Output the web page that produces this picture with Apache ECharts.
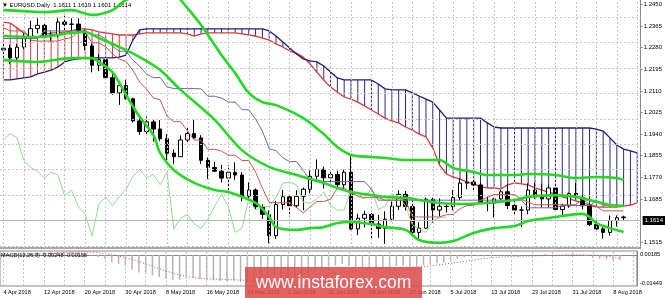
<!DOCTYPE html>
<html><head><meta charset="utf-8">
<script src="https://cdn.jsdelivr.net/npm/echarts@6/dist/echarts.min.js"></script>
<style>html,body{margin:0;padding:0;background:#fff}#c{width:665px;height:298px}</style>
</head><body><div id="c"></div>
<script>
const dates = ['4 Apr 2018','5 Apr 2018','6 Apr 2018','9 Apr 2018','10 Apr 2018','11 Apr 2018','12 Apr 2018','13 Apr 2018','16 Apr 2018','17 Apr 2018',
'18 Apr 2018','19 Apr 2018','20 Apr 2018','23 Apr 2018','24 Apr 2018','25 Apr 2018','26 Apr 2018','27 Apr 2018','30 Apr 2018','1 May 2018',
'2 May 2018','3 May 2018','4 May 2018','7 May 2018','8 May 2018','9 May 2018','10 May 2018','11 May 2018','14 May 2018','15 May 2018',
'16 May 2018','17 May 2018','18 May 2018','21 May 2018','22 May 2018','23 May 2018','24 May 2018','25 May 2018','28 May 2018','29 May 2018',
'30 May 2018','31 May 2018','1 Jun 2018','4 Jun 2018','5 Jun 2018','6 Jun 2018','7 Jun 2018','8 Jun 2018','11 Jun 2018','12 Jun 2018',
'13 Jun 2018','14 Jun 2018','15 Jun 2018','18 Jun 2018','19 Jun 2018','20 Jun 2018','21 Jun 2018','22 Jun 2018','25 Jun 2018','26 Jun 2018',
'27 Jun 2018','28 Jun 2018','29 Jun 2018','2 Jul 2018','3 Jul 2018','4 Jul 2018','5 Jul 2018','6 Jul 2018','9 Jul 2018','10 Jul 2018',
'11 Jul 2018','12 Jul 2018','13 Jul 2018','16 Jul 2018','17 Jul 2018','18 Jul 2018','19 Jul 2018','20 Jul 2018','23 Jul 2018','24 Jul 2018',
'25 Jul 2018','26 Jul 2018','27 Jul 2018','30 Jul 2018','31 Jul 2018','1 Aug 2018','2 Aug 2018','3 Aug 2018','6 Aug 2018','7 Aug 2018',
'8 Aug 2018','9 Aug 2018','10 Aug 2018','13 Aug 2018'];

const opens = [1.2271,1.2278,1.2240,1.2282,1.2320,1.2355,1.2368,1.2326,1.2331,1.2381,
1.2372,1.2373,1.2346,1.2287,1.2211,1.2233,1.2162,1.2102,1.2131,1.2079,
1.1992,1.1950,1.1988,1.1960,1.1922,1.1865,1.1851,1.1917,1.1942,1.1925,
1.1837,1.1809,1.1794,1.1767,1.1790,1.1779,1.1696,1.1720,1.1654,1.1624,
1.1540,1.1663,1.1693,1.1658,1.1695,1.1723,1.1774,1.1801,1.1768,1.1781,
1.1741,1.1790,1.1567,1.1609,1.1624,1.1586,1.1569,1.1605,1.1656,1.1703,
1.1655,1.1553,1.1570,1.1684,1.1641,1.1656,1.1655,1.1690,1.1747,1.1751,
1.1740,1.1672,1.1668,1.1685,1.1713,1.1659,1.1641,1.1641,1.1720,1.1693,
1.1685,1.1728,1.1643,1.1657,1.1706,1.1691,1.1658,1.1584,1.1567,1.1553,
1.1600,1.1611];
const highs = [1.2296,1.2291,1.2295,1.2337,1.2386,1.2396,1.2376,1.2345,1.2396,1.2414,
1.2396,1.2396,1.2352,1.2297,1.2254,1.2240,1.2184,1.2135,1.2154,1.2083,
1.2010,1.2009,1.1996,1.1995,1.1940,1.1880,1.1935,1.1972,1.1996,1.1936,
1.1848,1.1831,1.1819,1.1817,1.1829,1.1791,1.1750,1.1726,1.1664,1.1640,
1.1677,1.1720,1.1704,1.1719,1.1730,1.1797,1.1840,1.1812,1.1797,1.1796,
1.1800,1.1852,1.1627,1.1638,1.1629,1.1622,1.1636,1.1675,1.1719,1.1716,
1.1679,1.1594,1.1690,1.1690,1.1687,1.1667,1.1720,1.1765,1.1791,1.1768,
1.1750,1.1694,1.1689,1.1720,1.1744,1.1679,1.1655,1.1746,1.1749,1.1745,
1.1740,1.1739,1.1666,1.1710,1.1747,1.1702,1.1668,1.1609,1.1574,1.1620,
1.1620,1.1619];
const lows = [1.2240,1.2215,1.2225,1.2274,1.2305,1.2336,1.2309,1.2305,1.2320,1.2347,
1.2347,1.2335,1.2270,1.2183,1.2188,1.2154,1.2095,1.2055,1.2075,1.1986,
1.1937,1.1938,1.1910,1.1912,1.1838,1.1823,1.1850,1.1904,1.1922,1.1822,
1.1763,1.1791,1.1750,1.1717,1.1760,1.1676,1.1677,1.1645,1.1606,1.1510,
1.1527,1.1643,1.1616,1.1650,1.1640,1.1707,1.1763,1.1726,1.1744,1.1728,
1.1720,1.1562,1.1542,1.1573,1.1529,1.1532,1.1508,1.1597,1.1641,1.1639,
1.1540,1.1527,1.1566,1.1591,1.1616,1.1631,1.1640,1.1681,1.1723,1.1712,
1.1669,1.1636,1.1612,1.1681,1.1645,1.1620,1.1575,1.1625,1.1685,1.1650,
1.1650,1.1635,1.1620,1.1650,1.1683,1.1644,1.1578,1.1564,1.1529,1.1540,
1.1576,1.1601];
const closes = [1.2278,1.2240,1.2282,1.2320,1.2355,1.2368,1.2326,1.2331,1.2381,1.2372,
1.2373,1.2346,1.2287,1.2211,1.2233,1.2162,1.2102,1.2131,1.2079,1.1992,
1.1950,1.1988,1.1960,1.1922,1.1865,1.1851,1.1917,1.1942,1.1925,1.1837,
1.1809,1.1794,1.1767,1.1790,1.1779,1.1696,1.1720,1.1654,1.1624,1.1540,
1.1663,1.1693,1.1658,1.1695,1.1723,1.1774,1.1801,1.1768,1.1781,1.1741,
1.1790,1.1567,1.1609,1.1624,1.1586,1.1569,1.1605,1.1656,1.1703,1.1655,
1.1553,1.1570,1.1684,1.1641,1.1656,1.1655,1.1690,1.1747,1.1751,1.1740,
1.1672,1.1668,1.1685,1.1713,1.1659,1.1641,1.1641,1.1720,1.1693,1.1685,
1.1728,1.1643,1.1657,1.1706,1.1691,1.1658,1.1584,1.1567,1.1553,1.1600,
1.1611,1.1614];

const tenkan = [1.2358,1.2346,1.2346,1.2346,1.2310,1.2306,1.2306,1.2306,1.2306,1.2315,
1.2320,1.2344,1.2342,1.2299,1.2299,1.2284,1.2255,1.2235,1.2226,1.2191,
1.2145,1.2117,1.2082,1.2075,1.2011,1.1989,1.1989,1.1953,1.1917,1.1916,
1.1880,1.1880,1.1873,1.1857,1.1857,1.1836,1.1836,1.1791,1.1727,1.1671,
1.1670,1.1670,1.1670,1.1651,1.1630,1.1654,1.1675,1.1675,1.1684,1.1728,
1.1728,1.1707,1.1697,1.1690,1.1690,1.1690,1.1680,1.1680,1.1680,1.1680,
1.1614,1.1614,1.1614,1.1614,1.1614,1.1623,1.1624,1.1646,1.1659,1.1659,
1.1679,1.1691,1.1702,1.1702,1.1702,1.1702,1.1683,1.1672,1.1662,1.1662,
1.1662,1.1662,1.1662,1.1662,1.1662,1.1685,1.1664,1.1656,1.1638,1.1638,
1.1638,1.1638];
const kijun = [1.2316,1.2316,1.2316,1.2316,1.2316,1.2316,1.2346,1.2346,1.2346,1.2346,
1.2346,1.2346,1.2346,1.2330,1.2330,1.2315,1.2286,1.2266,1.2266,1.2231,
1.2207,1.2176,1.2162,1.2163,1.2126,1.2119,1.2119,1.2119,1.2119,1.2118,
1.2089,1.2089,1.2082,1.2066,1.2066,1.2036,1.2036,1.1999,1.1952,1.1882,
1.1875,1.1847,1.1832,1.1832,1.1797,1.1760,1.1760,1.1753,1.1753,1.1753,
1.1753,1.1753,1.1753,1.1753,1.1723,1.1680,1.1680,1.1680,1.1680,1.1680,
1.1680,1.1680,1.1680,1.1680,1.1680,1.1680,1.1680,1.1680,1.1680,1.1680,
1.1680,1.1680,1.1680,1.1680,1.1680,1.1680,1.1680,1.1650,1.1650,1.1650,
1.1650,1.1650,1.1659,1.1659,1.1659,1.1659,1.1659,1.1678,1.1660,1.1660,
1.1660,1.1660];
const chikou = [1.1917,1.1942,1.1925,1.1837,1.1809,1.1794,1.1767,1.1790,1.1779,1.1696,
1.1720,1.1654,1.1624,1.1540,1.1663,1.1693,1.1658,1.1695,1.1723,1.1774,
1.1801,1.1768,1.1781,1.1741,1.1790,1.1567,1.1609,1.1624,1.1586,1.1569,
1.1605,1.1656,1.1703,1.1655,1.1553,1.1570,1.1684,1.1641,1.1656,1.1655,
1.1690,1.1747,1.1751,1.1740,1.1672,1.1668,1.1685,1.1713,1.1659,1.1641,
1.1641,1.1720,1.1693,1.1685,1.1728,1.1643,1.1657,1.1706,1.1691,1.1658,
1.1584,1.1567,1.1553,1.1600,1.1611,1.1614];
const senkouA = [1.2381,1.2377,1.2358,1.2338,1.2326,1.2322,1.2330,1.2338,1.2338,1.2342,
1.2346,1.2354,1.2354,1.2350,1.2342,1.2338,1.2334,1.2330,1.2330,1.2330,
1.2334,1.2338,1.2338,1.2338,1.2338,1.2338,1.2338,1.2334,1.2326,1.2334,
1.2338,1.2338,1.2338,1.2338,1.2338,1.2334,1.2330,1.2326,1.2318,1.2310,
1.2295,1.2283,1.2267,1.2259,1.2243,1.2216,1.2184,1.2153,1.2125,1.2106,
1.2086,1.2078,1.2066,1.2051,1.2035,1.2019,1.2003,1.1992,1.1984,1.1968,
1.1956,1.1940,1.1929,1.1885,1.1818,1.1783,1.1771,1.1763,1.1752,1.1744,
1.1732,1.1728,1.1728,1.1724,1.1740,1.1748,1.1744,1.1740,1.1728,1.1720,
1.1712,1.1704,1.1693,1.1685,1.1677,1.1669,1.1661,1.1653,1.1653,1.1653,
1.1653,1.1657,1.1661,1.1669];
const senkouB = [1.2153,1.2153,1.2157,1.2161,1.2165,1.2177,1.2184,1.2192,1.2204,1.2224,
1.2232,1.2236,1.2240,1.2240,1.2240,1.2240,1.2240,1.2243,1.2251,1.2310,
1.2350,1.2354,1.2354,1.2354,1.2354,1.2354,1.2354,1.2354,1.2354,1.2354,
1.2354,1.2354,1.2354,1.2354,1.2354,1.2354,1.2354,1.2354,1.2354,1.2346,
1.2326,1.2302,1.2279,1.2255,1.2236,1.2228,1.2224,1.2208,1.2184,1.2161,
1.2153,1.2153,1.2153,1.2153,1.2153,1.2137,1.2118,1.2114,1.2114,1.2114,
1.2102,1.2090,1.2078,1.2066,1.2035,1.2003,1.2003,1.2003,1.2003,1.2003,
1.2003,1.1984,1.1968,1.1964,1.1964,1.1964,1.1964,1.1964,1.1964,1.1964,
1.1964,1.1964,1.1964,1.1964,1.1964,1.1964,1.1964,1.1960,1.1952,1.1925,
1.1897,1.1881,1.1874,1.1866];

const bbUpper = [[0,1.2428],[3,1.2424],[6,1.2420],[10,1.2428],[13,1.2409],[16,1.2428],[18,1.2468],[22,1.2499],[25,1.2491],[26,1.2468],
[29,1.2369],[32,1.2251],[34,1.2180],[36,1.2102],[38,1.2066],[40,1.2054],[44,1.2003],[47,1.1940],[49,1.1889],[51,1.1858],
[54,1.1850],[56,1.1846],[59,1.1838],[61,1.1838],[64,1.1838],[66,1.1807],[69,1.1791],[71,1.1779],[75,1.1779],[77,1.1783],
[81,1.1779],[84,1.1767],[87,1.1771],[90,1.1767],[91,1.1759]];
const bbMiddle = [[0,1.2326],[5,1.2322],[10,1.2338],[12,1.2342],[14,1.2318],[17,1.2283],[20,1.2243],[23,1.2192],[26,1.2114],[31,1.1996],
[35,1.1877],[39,1.1811],[43,1.1779],[47,1.1748],[49,1.1728],[51,1.1712],[54,1.1700],[56,1.1693],[59,1.1689],[61,1.1681],
[64,1.1669],[67,1.1665],[71,1.1669],[75,1.1681],[77,1.1693],[81,1.1700],[84,1.1693],[86,1.1681],[89,1.1661],[91,1.1657]];
const bbLower = [[0,1.2232],[5,1.2224],[10,1.2239],[13,1.2239],[14,1.2224],[16,1.2184],[18,1.2094],[20,1.2007],[22,1.1937],[23,1.1866],
[25,1.1799],[28,1.1748],[31,1.1720],[33,1.1712],[37,1.1669],[39,1.1614],[40,1.1574],[43,1.1563],[45,1.1570],[47,1.1574],
[49,1.1590],[51,1.1594],[54,1.1586],[56,1.1574],[59,1.1563],[61,1.1523],[64,1.1512],[66,1.1519],[69,1.1551],[72,1.1570],
[75,1.1578],[77,1.1598],[80,1.1610],[82,1.1618],[85,1.1626],[86,1.1614],[87,1.1590],[89,1.1570],[91,1.1555]];

const macdMain = [0.0003,0.0000,0.0001,0.0004,0.0009,0.0013,0.0013,0.0013,0.0016,0.0018,
0.0018,0.0016,0.0010,-0.0002,-0.0009,-0.0020,-0.0034,-0.0043,-0.0054,-0.0068,
-0.0082,-0.0089,-0.0096,-0.0103,-0.0112,-0.0118,-0.0116,-0.0111,-0.0108,-0.0112,
-0.0116,-0.0119,-0.0122,-0.0121,-0.0120,-0.0126,-0.0127,-0.0132,-0.0137,-0.0145,
-0.0136,-0.0125,-0.0118,-0.0108,-0.0097,-0.0084,-0.0071,-0.0063,-0.0055,-0.0050,
-0.0042,-0.0053,-0.0058,-0.0060,-0.0064,-0.0067,-0.0066,-0.0060,-0.0052,-0.0049,
-0.0054,-0.0056,-0.0048,-0.0044,-0.0039,-0.0035,-0.0029,-0.0019,-0.0011,-0.0006,
-0.0007,-0.0008,-0.0006,-0.0003,-0.0004,-0.0006,-0.0007,-0.0002,0.0000,0.0001,
0.0005,0.0001,-0.0001,0.0002,0.0003,0.0001,-0.0006,-0.0013,-0.0019,-0.0021,
-0.0023,-0.00248];
const macdSignal = [0.0001,0.0001,0.0002,0.0002,0.0003,0.0005,0.0006,0.0007,0.0009,0.0011,
0.0013,0.0014,0.0015,0.0013,0.0010,0.0006,0.0001,-0.0005,-0.0012,-0.0021,
-0.0031,-0.0042,-0.0053,-0.0064,-0.0075,-0.0085,-0.0094,-0.0101,-0.0106,-0.0109,
-0.0111,-0.0112,-0.0114,-0.0115,-0.0116,-0.0117,-0.0119,-0.0122,-0.0125,-0.0129,
-0.0131,-0.0131,-0.0130,-0.0128,-0.0124,-0.0118,-0.0111,-0.0104,-0.0095,-0.0086,
-0.0080,-0.0076,-0.0072,-0.0069,-0.0067,-0.0066,-0.0064,-0.0062,-0.0060,-0.0058,
-0.0057,-0.0056,-0.0054,-0.0051,-0.0047,-0.0043,-0.0039,-0.0035,-0.0030,-0.0025,
-0.0020,-0.0016,-0.0013,-0.0011,-0.0009,-0.0007,-0.0006,-0.0006,-0.0005,-0.0004,
-0.0003,-0.0002,-0.0001,0.0000,0.0001,0.0001,0.0001,-0.0001,-0.0003,-0.0006,
-0.0010,-0.00156];

const priceGridValues = [1.2450,1.2365,1.2280,1.2195,1.2110,1.2025,1.1940,1.1855,1.1770,1.1685,1.1600,1.1515];
const priceLabelValues = [1.2450,1.2365,1.2280,1.2195,1.2110,1.2025,1.1940,1.1855,1.1770,1.1685,1.1515];
const macdLabelTop = [0.00185];
const macdLabelBottom = [-0.01449];

const FONT = 'Liberation Sans, Arial, sans-serif';
const last = closes.length - 1;
const gridDates = dates.filter((d, i) => i % 3 === 0);
const chart = echarts.init(document.getElementById('c'), null, {renderer: 'canvas'});

const gridLineStyle = {color: '#c4c4c4', type: [2, 2], width: 1};
const common = {silent: true, symbol: ['none', 'none'], label: {show: false}, animation: false};

const option = {
  animation: false,
  backgroundColor: '#ffffff',
  textStyle: {fontFamily: FONT},
  title: [
    {text: '\u25BC EURUSD,Daily  ' + [opens[last], highs[last], lows[last], closes[last]].map(v => v.toFixed(4)).join(' '),
     left: 2, top: 2, padding: 0, textStyle: {fontSize: 6, fontWeight: 'normal', color: '#000', fontFamily: FONT}},
    {text: 'MACD(12,26,9) ' + macdMain[last].toFixed(5) + ' ' + macdSignal[last].toFixed(5),
     left: 1, top: 252, padding: 0, textStyle: {fontSize: 5.6, fontWeight: 'normal', color: '#000', fontFamily: FONT}}
  ],
  grid: [
    {left: -1.8, right: 23.8, top: 0, height: 248},
    {left: -1.8, right: 23.8, top: 251, height: 35, show: true, borderColor: '#8a8a8a', borderWidth: 1}
  ],
  xAxis: [
    {type: 'category', gridIndex: 0, data: dates, boundaryGap: true,
     axisLine: {show: true, lineStyle: {color: '#8a8a8a', width: 1.5}}, axisTick: {show: false}, axisLabel: {show: false}, splitLine: {show: false}},
    {type: 'category', gridIndex: 1, data: dates, boundaryGap: true, position: 'bottom',
     axisLine: {show: true, lineStyle: {color: '#8a8a8a'}},
     axisTick: {show: true, alignWithLabel: true, interval: 5, length: 2, lineStyle: {color: '#8a8a8a'}},
     axisLabel: {show: true, interval: 5, align: 'left', fontSize: 5.6, color: '#000', margin: 3, fontFamily: FONT},
     splitLine: {show: false}}
  ],
  yAxis: [
    {type: 'value', gridIndex: 0, position: 'right', min: 1.14918, max: 1.24677,
     axisLine: {show: true, lineStyle: {color: '#8a8a8a'}},
     axisTick: {show: true, customValues: priceLabelValues, length: 2, lineStyle: {color: '#8a8a8a'}},
     axisLabel: {show: true, customValues: priceLabelValues, formatter: v => v.toFixed(4), fontSize: 6, color: '#000', margin: 3, fontFamily: FONT},
     splitLine: {show: false}},
    {type: 'value', gridIndex: 1, position: 'right', min: -0.01449, max: 0.00185,
     axisLine: {show: true, lineStyle: {color: '#8a8a8a'}},
     axisTick: {show: false},
     axisLabel: {show: true, customValues: macdLabelTop, formatter: v => v.toFixed(5), fontSize: 5.6, color: '#000', margin: 3, verticalAlign: 'top', fontFamily: FONT},
     splitLine: {show: false}},
    {type: 'value', gridIndex: 1, position: 'right', min: -0.01449, max: 0.00185,
     axisLine: {show: false}, axisTick: {show: false},
     axisLabel: {show: true, customValues: macdLabelBottom, formatter: v => v.toFixed(5), fontSize: 5.6, color: '#000', margin: 3, verticalAlign: 'bottom', fontFamily: FONT},
     splitLine: {show: false}}
  ],
  series: [
    {type: 'line', xAxisIndex: 0, yAxisIndex: 0, data: [], z: 1,
     markLine: Object.assign({}, common, {lineStyle: gridLineStyle,
       data: priceGridValues.map(v => ({yAxis: v})).concat(gridDates.map(d => ({xAxis: d})))})},
    {type: 'line', xAxisIndex: 1, yAxisIndex: 1, data: [], z: 1,
     markLine: Object.assign({}, common, {lineStyle: gridLineStyle, data: gridDates.map(d => ({xAxis: d}))})},
    {type: 'custom', name: 'cloud', xAxisIndex: 0, yAxisIndex: 0, z: 2, silent: true,
     data: senkouA.map((a, i) => [i, a, senkouB[i]]),
     encode: {x: 0, y: [1, 2]},
     renderItem: function (params, api) {
       const i = api.value(0), a = api.value(1), b = api.value(2);
       const p1 = api.coord([i, a]), p2 = api.coord([i, b]);
       return {type: 'line', shape: {x1: p1[0], y1: p1[1], x2: p2[0], y2: p2[1]},
               style: {stroke: a > b ? '#d23c3c' : '#2a2a86', lineWidth: 1}};
     }},
    {type: 'line', name: 'Senkou A', xAxisIndex: 0, yAxisIndex: 0, data: senkouA, z: 3, symbol: 'none',
     lineStyle: {color: '#d23c3c', width: 1.3}},
    {type: 'line', name: 'Senkou B', xAxisIndex: 0, yAxisIndex: 0, data: senkouB, z: 3, symbol: 'none',
     lineStyle: {color: '#1e1e78', width: 1.3}},
    {type: 'candlestick', name: 'EURUSD', xAxisIndex: 0, yAxisIndex: 0, z: 4, barWidth: 4,
     data: opens.map((o, i) => [o, closes[i], lows[i], highs[i]]),
     itemStyle: {color: '#ffffff', color0: '#000000', borderColor: '#000000', borderColor0: '#000000', borderWidth: 1},
     markLine: {silent: true, symbol: ['none', 'none'], animation: false,
       lineStyle: {color: '#b8b8b8', type: 'solid', width: 1},
       label: {show: true, position: 'end', formatter: closes[last].toFixed(4), backgroundColor: '#000', color: '#fff',
               fontSize: 6, padding: [2, 2, 1, 2], distance: 2, fontFamily: FONT},
       data: [{yAxis: closes[last]}]}},
    {type: 'line', name: 'Chikou', xAxisIndex: 0, yAxisIndex: 0, data: chikou, z: 5, symbol: 'none',
     lineStyle: {color: '#8ee08e', width: 1}},
    {type: 'line', name: 'Kijun', xAxisIndex: 0, yAxisIndex: 0, data: kijun, z: 5, symbol: 'none',
     lineStyle: {color: '#6a6aaa', width: 1}},
    {type: 'line', name: 'Tenkan', xAxisIndex: 0, yAxisIndex: 0, data: tenkan, z: 5, symbol: 'none',
     lineStyle: {color: '#c25a56', width: 1}},
    {type: 'line', name: 'BB upper', xAxisIndex: 0, yAxisIndex: 0, data: bbUpper, z: 6, symbol: 'none', smooth: 0.3,
     lineStyle: {color: '#24d824', width: 2.6}},
    {type: 'line', name: 'BB middle', xAxisIndex: 0, yAxisIndex: 0, data: bbMiddle, z: 6, symbol: 'none', smooth: 0.3,
     lineStyle: {color: '#24d824', width: 2.6}},
    {type: 'line', name: 'BB lower', xAxisIndex: 0, yAxisIndex: 0, data: bbLower, z: 6, symbol: 'none', smooth: 0.3,
     lineStyle: {color: '#24d824', width: 2.6}},
    {type: 'bar', name: 'MACD', xAxisIndex: 1, yAxisIndex: 1, data: macdMain, barWidth: 1.5, z: 3,
     itemStyle: {color: '#b4b4b4'}},
    {type: 'line', name: 'Signal', xAxisIndex: 1, yAxisIndex: 1, data: macdSignal, z: 4, symbol: 'none',
     lineStyle: {color: '#d85050', width: 1, type: [1, 2]}}
  ],
  graphic: [
    {type: 'rect', shape: {x: 245, y: 267, width: 177, height: 31}, style: {fill: 'rgba(222,72,72,0.85)'}, z: 100, silent: true},
    {type: 'text', x: 333.5, y: 283, z: 101, silent: true,
     style: {text: 'www.instaforex.com', fill: '#ffffff', font: '17.5px Liberation Sans, Arial, sans-serif',
             textAlign: 'center', textVerticalAlign: 'middle', align: 'center', verticalAlign: 'middle'}}
  ]
};
chart.setOption(option);
</script>
</body></html>
